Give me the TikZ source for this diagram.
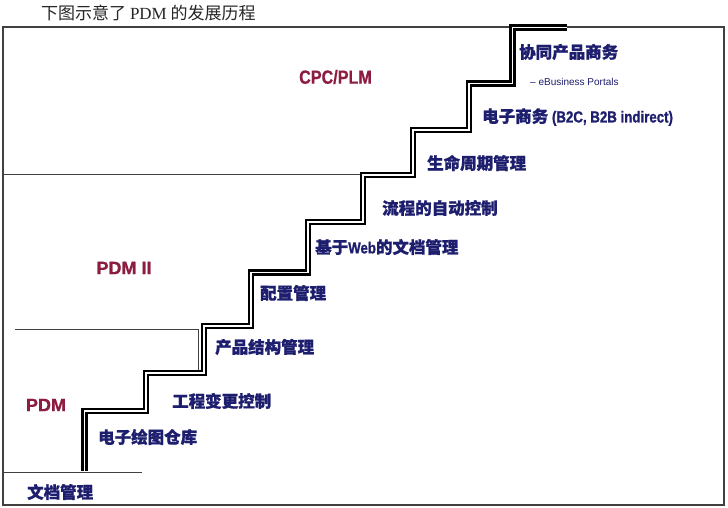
\documentclass[tikz,border=0pt]{standalone}
\usepackage{fontspec}
\setmainfont{Liberation Sans}[BoldFeatures={FakeBold=0.6}]
\newfontfamily\cjk{Noto Sans CJK SC}[BoldFeatures={FakeBold=1}]
\newfontfamily\redf{Liberation Sans}[FakeStretch=0.85, BoldFeatures={FakeBold=0.6}]
\newfontfamily\latc{Liberation Sans}[FakeStretch=0.83, BoldFeatures={FakeBold=1}]
\newfontfamily\serf{Liberation Serif}
\definecolor{stepblue}{HTML}{1E1E6E}
\definecolor{phasered}{HTML}{8C1D40}
\begin{document}
\begin{tikzpicture}[x=1pt,y=-1pt,
  lbl/.style={anchor=west, inner sep=0pt, text=stepblue, font=\cjk\bfseries\fontsize{16.5}{18}\selectfont},
  phase/.style={inner sep=0pt, text=phasered, font=\bfseries\fontsize{18}{20}\selectfont},
  thinline/.style={draw=black!75, line width=1pt},
  stairs/.style={draw=black, line width=2.2pt, double=white, double distance=1.8pt, line join=miter}]
\useasboundingbox (0,0) rectangle (728,508);
\fill[white] (0,0) rectangle (728,508);
% frame
\draw[line width=1.6pt, draw=black!75] (3,27) rectangle (724,505);
% phase boundaries
\draw[thinline] (3,174) -- (363,174);
\draw[thinline] (15,329) -- (198,329) -- (198,373);
\draw[thinline] (3,472) -- (142,472);
% staircase
\draw[stairs] (84.5,471) -- (84.5,411) -- (146,411) -- (146,373) -- (204,373)
  -- (204,326) -- (251,326) -- (251,272.5) -- (308,272.5) -- (308,222)
  -- (363,222) -- (363,175) -- (413,175) -- (413,130) -- (469,130)
  -- (469,83.5) -- (512.5,83.5) -- (512.5,27.5) -- (567,27.5);
% title
\node[anchor=west, inner sep=0pt, text=black!85, font=\cjk\fontsize{17}{19}\selectfont] (title) at (41,13) {下图示意了 {\serf PDM} 的发展历程};
% phases
\node[phase, font=\redf\bfseries\fontsize{19}{21}\selectfont] (cpc) at (335.5,77) {CPC/PLM};
\node[phase] (pdm2) at (124,268) {PDM II};
\node[phase] (pdm) at (46,405) {PDM};
% steps
\node[lbl] (cp) at (519,52) {协同产品商务};
\node[anchor=west, inner sep=0pt, text=stepblue, font=\fontsize{10}{11}\selectfont] (ebiz) at (530,82) {– eBusiness Portals};
\node[lbl] (ecom) at (482,117) {电子商务 {\latc\bfseries\fontsize{16}{18}\selectfont (B2C, B2B indirect)}};
\node[lbl] (life) at (427,163) {生命周期管理};
\node[lbl] (flow) at (382,208) {流程的自动控制};
\node[lbl] (web) at (315,247) {基于{\latc\bfseries\fontsize{16}{18}\selectfont Web}的文档管理};
\node[lbl] (cfg) at (260,293) {配置管理};
\node[lbl] (prod) at (215,347) {产品结构管理};
\node[lbl] (chg) at (172,401) {工程变更控制};
\node[lbl] (drw) at (98,437) {电子绘图仓库};
\node[lbl] (doc) at (27,492) {文档管理};
\end{tikzpicture}
\end{document}
